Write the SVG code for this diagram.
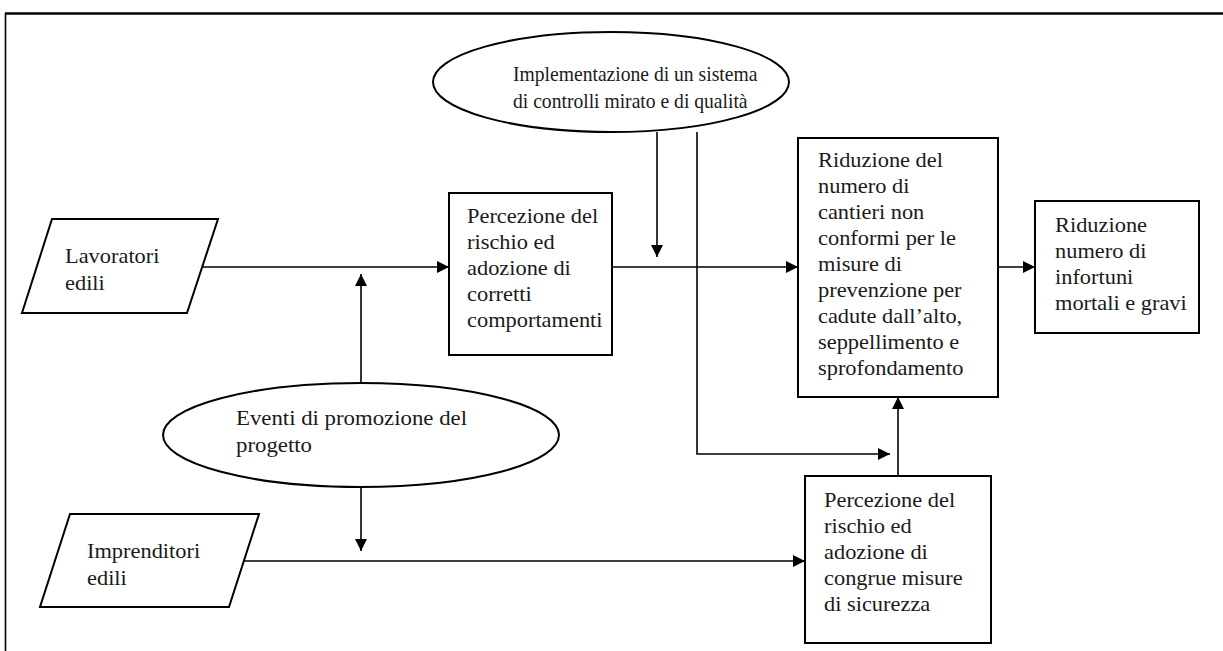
<svg xmlns="http://www.w3.org/2000/svg" width="1223" height="651" viewBox="0 0 1223 651">
<defs>
<style>
.shape{fill:#fff;stroke:#000;stroke-width:2}
.arr{fill:none;stroke:#000;stroke-width:1.6;marker-end:url(#ah)}
text{font-family:"Liberation Serif","Times New Roman",serif;font-size:20px;fill:#1a1a1a}
</style>
<marker id="ah" viewBox="0 0 10 10" refX="10" refY="5" markerWidth="15" markerHeight="12" markerUnits="userSpaceOnUse" orient="auto">
<path d="M0,0 L10,5 L0,10 z" fill="#000"/>
</marker>
</defs>
<rect width="1223" height="651" fill="#fff"/>
<g id="frame">
<line x1="5" y1="13.5" x2="1223" y2="13.5" stroke="#000" stroke-width="2.4"/>
<line x1="5.5" y1="13" x2="5.5" y2="651" stroke="#000" stroke-width="1.6"/>
</g>
<g id="connectors">
<path class="arr" d="M203,267 H449"/>
<path class="arr" d="M361,383 V274"/>
<path class="arr" d="M657,132 V257"/>
<path class="arr" d="M612,267 H798"/>
<path class="arr" d="M697,132 V454 H890"/>
<path class="arr" d="M898,476 V397"/>
<path class="arr" d="M998,267 H1035"/>
<path class="arr" d="M361,487 V551"/>
<path class="arr" d="M244,561 H805"/>
</g>
<g id="n-implementazione">
<ellipse class="shape" cx="611" cy="82" rx="178" ry="50"/>
<text transform="translate(513,81) scale(0.98,1)"><tspan x="0" y="0">Implementazione di un sistema</tspan><tspan x="0" y="27">di controlli mirato e di qualità</tspan></text>
</g>
<g id="n-lavoratori">
<polygon class="shape" points="52,219 218,219 187,313 22,313"/>
<text transform="translate(65,263) scale(1.12,1)"><tspan x="0" y="0">Lavoratori</tspan><tspan x="0" y="27">edili</tspan></text>
</g>
<g id="n-percezione1">
<rect class="shape" x="449" y="193" width="163" height="162"/>
<text transform="translate(467,223) scale(1.12,1)"><tspan x="0" y="0">Percezione del</tspan><tspan x="0" y="26">rischio ed</tspan><tspan x="0" y="52">adozione di</tspan><tspan x="0" y="78">corretti</tspan><tspan x="0" y="104">comportamenti</tspan></text>
</g>
<g id="n-riduzione-cantieri">
<rect class="shape" x="798" y="138" width="200" height="259"/>
<text transform="translate(818,167) scale(1.12,1)"><tspan x="0" y="0">Riduzione del</tspan><tspan x="0" y="26">numero di</tspan><tspan x="0" y="52">cantieri non</tspan><tspan x="0" y="78">conformi per le</tspan><tspan x="0" y="104">misure di</tspan><tspan x="0" y="130">prevenzione per</tspan><tspan x="0" y="156">cadute dall’alto,</tspan><tspan x="0" y="182">seppellimento e</tspan><tspan x="0" y="208">sprofondamento</tspan></text>
</g>
<g id="n-riduzione-infortuni">
<rect class="shape" x="1035" y="201" width="164" height="132"/>
<text transform="translate(1055,232) scale(1.12,1)"><tspan x="0" y="0">Riduzione</tspan><tspan x="0" y="26">numero di</tspan><tspan x="0" y="52">infortuni</tspan><tspan x="0" y="78">mortali e gravi</tspan></text>
</g>
<g id="n-eventi">
<ellipse class="shape" cx="361" cy="435" rx="198" ry="52"/>
<text transform="translate(236,425) scale(1.14,1)"><tspan x="0" y="0">Eventi di promozione del</tspan><tspan x="0" y="27">progetto</tspan></text>
</g>
<g id="n-imprenditori">
<polygon class="shape" points="70,514 259,514 229,607 40,607"/>
<text transform="translate(87,558) scale(1.12,1)"><tspan x="0" y="0">Imprenditori</tspan><tspan x="0" y="27">edili</tspan></text>
</g>
<g id="n-percezione2">
<rect class="shape" x="805" y="476" width="186" height="167"/>
<text transform="translate(824,507) scale(1.12,1)"><tspan x="0" y="0">Percezione del</tspan><tspan x="0" y="26">rischio ed</tspan><tspan x="0" y="52">adozione di</tspan><tspan x="0" y="78">congrue misure</tspan><tspan x="0" y="104">di sicurezza</tspan></text>
</g>
</svg>
